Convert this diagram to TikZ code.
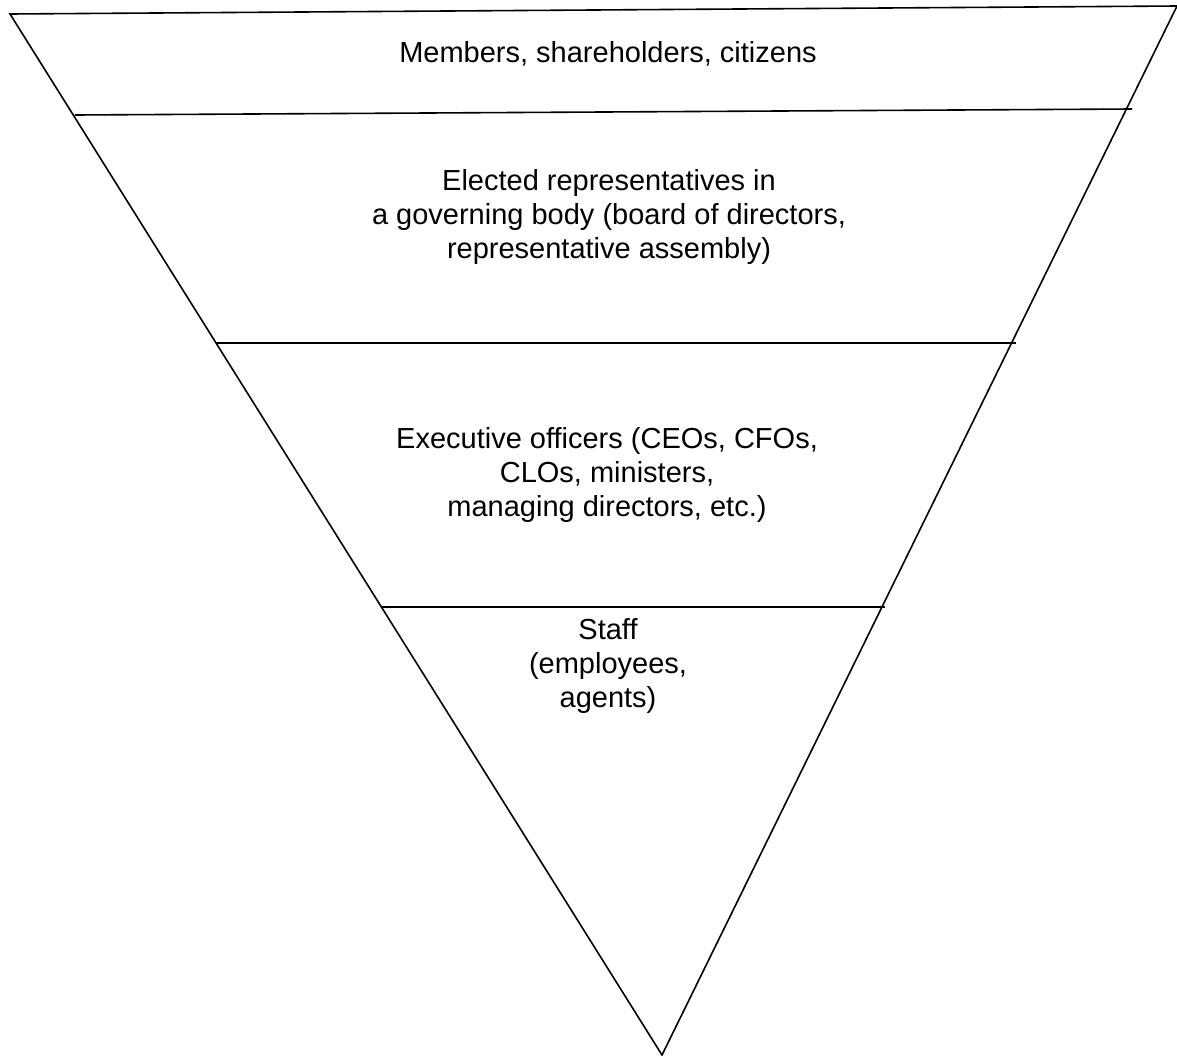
\documentclass[tikz,border=0pt]{standalone}
\usepackage{fontspec}
\setmainfont{Liberation Sans}
\usetikzlibrary{positioning}

\begin{document}
\begin{tikzpicture}[x=1pt,y=-1pt,line width=1.6pt,
  level text/.style={align=center,font=\fontsize{29}{34}\selectfont,inner sep=0pt}]
\useasboundingbox (0,0) rectangle (1177,1055);
% corners of the funnel
\coordinate (tl) at (10,14);
\coordinate (tr) at (1177,6);
\coordinate (apex) at (662,1055);
% ends of the dividing lines
\coordinate (a1) at (75,115);
\coordinate (b1) at (1132,109);
\coordinate (a2) at (216,343);
\coordinate (b2) at (1016,343);
\coordinate (a3) at (382,607);
\coordinate (b3) at (885,607);
\draw (tl) -- (tr) -- (apex) -- cycle;
\draw (a1) -- (b1);
\draw (a2) -- (b2);
\draw (a3) -- (b3);
% labels
\node[level text] (members) at (608,54) {Members, shareholders, citizens};
\node[level text] (board) at (609,217) {Elected representatives in\\a governing body (board of directors,\\representative assembly)};
\node[level text] (officers) at (607,475) {Executive officers (CEOs, CFOs,\\CLOs, ministers,\\managing directors, etc.)};
\node[level text] (staff) at (608,666) {Staff\\(employees,\\agents)};
\end{tikzpicture}
\end{document}
